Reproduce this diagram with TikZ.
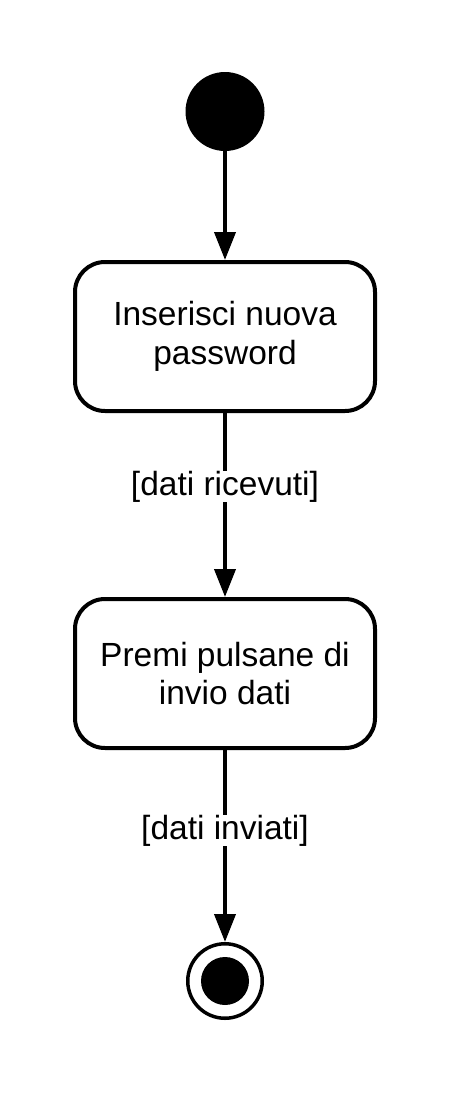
\documentclass[tikz,border=0pt]{standalone}
\usepackage{fontspec}
\setmainfont{Liberation Sans}
\usetikzlibrary{arrows.meta}
\begin{document}
\begin{tikzpicture}[x=1pt,y=-1pt,
  txt/.style={font=\fontsize{33.5}{38.5}\selectfont},
  state/.style={txt, draw, line width=4pt, rounded corners=30pt,
    minimum width=300pt, minimum height=149pt, align=center, inner sep=0pt},
  flow/.style={line width=4pt, -{Triangle[length=28pt,width=21pt]}},
  guard/.style={txt, fill=white, inner sep=0pt}]
\useasboundingbox (0,0) rectangle (450,1095);
% initial and final pseudo-states
\node[circle, fill=black, minimum size=79pt, inner sep=0pt] (start) at (225,111.5) {};
\node[circle, draw, line width=3.5pt, minimum size=74.5pt, inner sep=0pt] (end) at (225,981) {};
\node[circle, fill=black, minimum size=48pt, inner sep=0pt] (endcore) at (end) {};
% actions
\node[state] (s1) at (225,336.5) {Inserisci nuova\\password};
\node[state] (s2) at (225,673.5) {Premi pulsane di\\invio dati};
% transitions
\draw[flow] (start) -- (s1);
\draw[flow] (s1) -- node[guard, pos=0.4] (g1) {[dati ricevuti]} (s2);
\draw[flow] (s2) -- node[guard, pos=0.42] (g2) {[dati inviati]} (end);
\end{tikzpicture}
\end{document}
